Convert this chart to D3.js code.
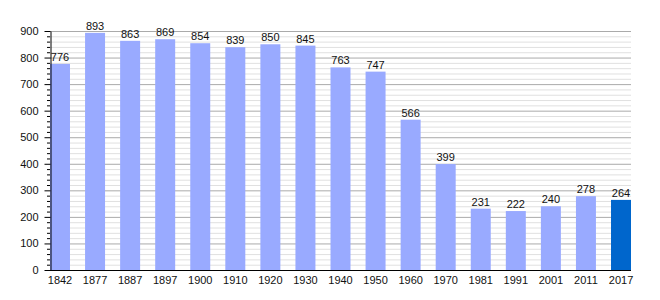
<!DOCTYPE html>
<html>
<head>
<meta charset="utf-8">
<script src="https://cdn.jsdelivr.net/npm/d3@7"></script>
<style>
  body { margin: 0; background: #fff; }
  text { font-family: "Liberation Sans", Arial, sans-serif; }
</style>
</head>
<body>
<script>
"use strict";

var years = ["1842", "1877", "1887", "1897", "1900", "1910", "1920", "1930", "1940",
             "1950", "1960", "1970", "1981", "1991", "2001", "2011", "2017"];
var population = [776, 893, 863, 869, 854, 839, 850, 845, 763, 747, 566, 399, 231, 222, 240, 278, 264];
var yTicks = [0, 100, 200, 300, 400, 500, 600, 700, 800, 900];

var width = 660, height = 300;
var plot = {left: 50, right: 631, top: 31, bottom: 270};

var svg = d3.select("body").append("svg")
    .attr("width", width)
    .attr("height", height);

var x = d3.scaleBand().domain(years).range([plot.left, plot.right]).paddingInner(0.43).paddingOuter(0);
var y = d3.scaleLinear().domain([0, 900]).range([plot.bottom, plot.top]);

// minor gridlines every 20
var minor = d3.range(20, 901, 20).filter(function(d) { return d % 100 !== 0; });
svg.append("g").selectAll("line")
    .data(minor)
    .enter().append("line")
    .attr("x1", plot.left).attr("x2", plot.right)
    .attr("y1", function(d) { return y(d) + 0.5; })
    .attr("y2", function(d) { return y(d) + 0.5; })
    .style("stroke", "#e0e0e0");

// major gridlines
svg.append("g").selectAll("line")
    .data(yTicks.slice(1))
    .enter().append("line")
    .attr("x1", plot.left).attr("x2", plot.right)
    .attr("y1", function(d) { return y(d) + 0.5; })
    .attr("y2", function(d) { return y(d) + 0.5; })
    .style("stroke", "#aaaaaa");

// bars
svg.append("g").selectAll("rect")
    .data(population)
    .enter().append("rect")
    .attr("x", function(d, i) { return x(years[i]); })
    .attr("y", function(d) { return y(d); })
    .attr("width", x.bandwidth())
    .attr("height", function(d) { return y(0) - y(d); })
    .style("fill", function(d, i) { return i === years.length - 1 ? "#0066cc" : "#99aaff"; });

// value labels
svg.append("g").selectAll("text")
    .data(population)
    .enter().append("text")
    .attr("x", function(d, i) { return x(years[i]) + x.bandwidth() / 2; })
    .attr("y", function(d) { return y(d) - 3; })
    .attr("text-anchor", "middle")
    .style("font-size", "11px")
    .style("fill", "#111")
    .text(function(d) { return d; });

// y axis: minor ticks
var axisG = svg.append("g");
axisG.selectAll("line.minor")
    .data(minor)
    .enter().append("line")
    .attr("class", "minor")
    .attr("x1", plot.left - 3).attr("x2", plot.left)
    .attr("y1", function(d) { return y(d) + 0.5; })
    .attr("y2", function(d) { return y(d) + 0.5; })
    .style("stroke", "#000");

axisG.append("g")
    .attr("transform", "translate(" + (plot.left + 0.5) + ",0)")
    .call(d3.axisLeft(y).tickValues(yTicks).tickSize(6).tickSizeOuter(0).tickPadding(6))
    .call(function(g) {
        g.selectAll("text").style("font-size", "11px").style("font-family", "Liberation Sans, Arial, sans-serif").attr("fill", "#111");
    });

// x axis
svg.append("g")
    .attr("transform", "translate(0," + (plot.bottom + 0.5) + ")")
    .call(d3.axisBottom(x).tickSize(0).tickPadding(6).tickSizeOuter(0))
    .call(function(g) {
        g.select(".domain").attr("d", "M" + plot.left + ",0H" + plot.right);
        g.selectAll("text").style("font-size", "11px").style("font-family", "Liberation Sans, Arial, sans-serif").attr("fill", "#111");
    });
</script>
</body>
</html>
